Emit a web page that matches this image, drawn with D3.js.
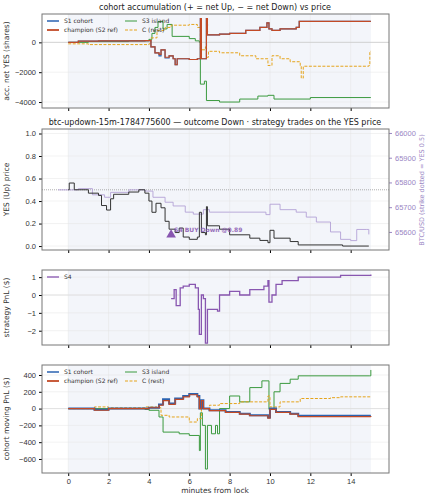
<!DOCTYPE html>
<html><head><meta charset="utf-8">
<script src="https://cdn.jsdelivr.net/npm/d3@7"></script>
<style>body{margin:0;background:#fff;font-family:"DejaVu Sans",sans-serif}</style>
</head><body><svg id="c" width="429" height="500"></svg>
<script>
// series as [minute, value] pairs
const accChampion = [[0,0],[0.5,80],[1.5,100],[3.8,120],[4.1,-300],[4.3,-700],[4.5,-800],[4.6,-500],[4.8,-1000],[5,-900],[5.2,-1100],[5.3,-1500],[5.4,-1100],[6,-1150],[6.4,-1100],[6.55,1600],[6.6,-1100],[6.8,-1100],[6.85,1600],[6.9,500],[7.5,550],[8,600],[8.8,800],[9.5,1000],[9.85,1300],[9.95,900],[10.1,800],[10.5,900],[11.3,1000],[11.45,1400],[15,1400]];
const accS1 = [[0,0],[0.5,80],[1.5,100],[3.8,120],[4.1,-300],[4.3,-700],[4.5,-900],[4.6,-500],[4.8,-1050],[5,-900],[5.2,-1100],[5.3,-1500],[5.4,-1100],[6,-1150],[6.4,-1100],[6.55,1600],[6.6,-1100],[6.8,-1100],[6.85,1600],[6.9,500],[7.5,550],[8,600],[8.8,800],[9.5,1000],[9.85,1300],[9.95,900],[10.1,800],[10.5,900],[11.3,1000],[11.45,1400],[15,1400]];
const accS3 = [[0,0],[1,50],[3,100],[4,200],[4.15,600],[4.3,1000],[4.45,1400],[4.7,900],[4.9,1200],[5.15,400],[6,250],[6.3,100],[6.5,0],[6.55,-2800],[6.75,-2600],[6.85,-3900],[7.5,-4000],[8.5,-3800],[9.4,-3600],[9.9,-3550],[10.2,-3800],[12,-3700],[15,-3700]];
const accC = [[0,-100],[1,-150],[3,-150],[4,-100],[4.1,300],[4.4,800],[4.8,1000],[5.1,1150],[6,1200],[6.4,1000],[6.55,-500],[6.8,-300],[6.85,-1000],[6.95,-600],[7.5,-700],[8.5,-900],[9.3,-1100],[9.9,-1550],[10.1,-900],[10.5,-1100],[11,-1300],[11.5,-1600],[11.55,-2400],[11.65,-1600],[14.9,-1550],[14.95,-600],[15,-600]];

const yesPrice = [[0,0.5],[0.05,0.56],[0.3,0.5],[1,0.47],[1.5,0.45],[1.65,0.36],[1.9,0.32],[2.1,0.42],[2.25,0.46],[3,0.48],[3.5,0.5],[3.8,0.47],[4,0.4],[4.15,0.3],[4.35,0.38],[4.6,0.34],[4.8,0.22],[5,0.15],[5.3,0.12],[5.5,0.16],[5.7,0.08],[6,0.06],[6.4,0.08],[6.5,0.3],[6.6,0.12],[6.8,0.1],[6.85,0.35],[6.9,0.18],[7.5,0.15],[8,0.1],[9,0.07],[9.5,0.05],[9.9,0.03],[10,0.14],[10.2,0.07],[11,0.04],[11.4,0.01],[13.6,0.0],[14.9,0.0]];
const btcPrice = [[-0.5,65770],[0.5,65775],[1.2,65750],[1.8,65740],[2.1,65760],[3,65770],[3.8,65765],[4.2,65740],[4.8,65720],[5.2,65705],[5.8,65680],[6.2,65672],[6.7,65690],[7,65680],[8,65680],[9.8,65670],[10,65712],[10.5,65690],[11.3,65680],[11.8,65660],[12.3,65640],[13,65600],[13.5,65570],[14,65565],[14.3,65610],[14.8,65610],[14.9,65590]];
const strike = 0.5;
const trades = [{t:5.1, p:0.1, label:"S4 BUY Down @0.89"}];

const pnlS4 = [[5.1,-0.2],[5.25,0.3],[5.35,-0.6],[5.55,0.4],[5.7,0.5],[6,0.6],[6.3,0.4],[6.45,-0.8],[6.5,-2.2],[6.6,0],[6.7,-0.2],[6.8,-2.7],[6.9,-0.8],[7.4,-0.9],[7.5,0],[8,0.2],[8.5,0],[9,0.3],[9.7,0.5],[9.9,0.8],[9.95,-0.4],[10.1,0],[10.3,0.6],[10.6,0.8],[11.4,1.0],[13.5,1.1],[15,1.15]];

const pnlS1 = [[0,0],[1.3,-15],[2,0],[4,10],[4.5,50],[4.7,110],[5,60],[5.3,120],[5.7,150],[6,175],[6.4,150],[6.5,0],[6.6,100],[6.7,0],[7,-20],[7.8,-40],[8.5,-60],[9,-80],[9.9,-105],[10,0],[10.3,-40],[11,-60],[11.4,-85],[15,-85]];
const pnlChampion = [[0,0],[1.3,-20],[2,0],[4,10],[4.5,40],[4.7,95],[5,50],[5.3,110],[5.7,140],[6,165],[6.4,140],[6.5,0],[6.6,95],[6.7,0],[7,-25],[7.8,-45],[8.5,-65],[9,-85],[9.9,-115],[10,-10],[10.3,-45],[11,-65],[11.4,-95],[15,-100]];
const pnlS3 = [[0,0],[3.8,-10],[4,-20],[4.5,-100],[4.7,-280],[5.5,-300],[6,-320],[6.5,-500],[6.55,-50],[6.65,-200],[6.8,-720],[6.9,-200],[7.1,-300],[7.3,-200],[7.4,-300],[7.5,0],[8,150],[8.5,80],[9,250],[9.6,330],[9.95,-10],[10.2,200],[10.5,300],[11,350],[11.4,390],[14.95,390],[15,460]];
const pnlC = [[0,0],[1.3,20],[2,10],[3.8,20],[4.4,10],[4.6,-80],[5,-100],[6,-160],[6.4,-120],[6.6,0],[7,40],[7.5,60],[8.5,80],[9.9,150],[10,20],[10.5,80],[11.5,120],[13,130],[13.5,140],[15,140]];

const xTicks = [0,2,4,6,8,10,12,14];
const col = {s1:"#2a62b0", champ:"#c24a26", s3:"#3b9a3f", c:"#e5a41c", s4:"#8856b0", btc:"#b3a2d6"};

const svg = d3.select("#c");
const L = 42, R = 389;
const x = d3.scaleLinear().domain([-1.3, 15.9]).range([L, R]);
const line = (xs, ys) => d3.line().x(d => xs(d[0])).y(d => ys(d[1])).curve(d3.curveStepAfter);

function panel(top, bottom, domain, ticks, fmt, ylab, bottomLabels) {
  const y = d3.scaleLinear().domain(domain).range([bottom, top]);
  const g = svg.append("g");
  g.append("rect").attr("x", L).attr("y", top).attr("width", R - L).attr("height", bottom - top).attr("fill", "#fff");
  g.append("rect").attr("x", x(0)).attr("y", top).attr("width", x(15) - x(0)).attr("height", bottom - top).attr("fill", "#f3f5fa");
  ticks.forEach(t => g.append("line").attr("x1", L).attr("x2", R).attr("y1", y(t)).attr("y2", y(t)).attr("stroke", "#e4e4e4").attr("stroke-width", 0.5));
  xTicks.forEach(t => g.append("line").attr("x1", x(t)).attr("x2", x(t)).attr("y1", top).attr("y2", bottom).attr("stroke", "#e4e4e4").attr("stroke-width", 0.5));
  const ya = g.append("g").attr("transform", `translate(${L},0)`).call(d3.axisLeft(y).tickValues(ticks).tickFormat(fmt).tickSize(3));
  ya.selectAll("text").attr("font-size", 7.5).attr("fill", "#333");
  ya.select(".domain").remove();
  const xa = g.append("g").attr("transform", `translate(0,${bottom})`).call(d3.axisBottom(x).tickValues(xTicks).tickSize(3).tickFormat(bottomLabels ? d3.format("d") : ""));
  xa.selectAll("text").attr("font-size", 7.5).attr("fill", "#333");
  xa.select(".domain").remove();
  g.append("text").attr("transform", `translate(9,${(top + bottom) / 2}) rotate(-90)`).attr("text-anchor", "middle").attr("font-size", 7.5).attr("fill", "#333").text(ylab);
  return {y, g, top, bottom};
}
function frame(p) {
  svg.append("rect").attr("x", L).attr("y", p.top).attr("width", R - L).attr("height", p.bottom - p.top).attr("fill", "none").attr("stroke", "#777").attr("stroke-width", 1);
}
function path(p, data, color, w, dash) {
  p.g.append("path").datum(data).attr("d", line(x, p.y)).attr("fill", "none").attr("stroke", color).attr("stroke-width", w).attr("stroke-dasharray", dash || null);
}
const fmtMinus = d => d3.format("d")(d).replace("-", "\u2212");
function legend(p, items) {
  items.forEach((it, i) => {
    const lx = L + 5 + (i % 2) * 78, ly = p.top + 7 + Math.floor(i / 2) * 9;
    p.g.append("line").attr("x1", lx).attr("x2", lx + 12).attr("y1", ly).attr("y2", ly).attr("stroke", it[1]).attr("stroke-width", it[2] || 1.3).attr("stroke-dasharray", it[3] || null);
    p.g.append("text").attr("x", lx + 17).attr("y", ly + 2.3).attr("font-size", 6).attr("fill", "#333").text(it[0]);
  });
}
const legItems = [["S1 cohort", col.s1, 1.5], ["S3 island", col.s3, 1], ["champion (S2 ref)", col.champ, 1.8], ["C (rest)", col.c, 1, "3,1.5"]];

// panel 1
svg.append("text").attr("x", 215).attr("y", 10).attr("text-anchor", "middle").attr("font-size", 8).attr("fill", "#222").text("cohort accumulation (+ = net Up, \u2212 = net Down) vs price");
const p1 = panel(14, 108, [-4400, 1900], [-4000, -2000, 0], fmtMinus, "acc. net YES (shares)", false);
p1.g.append("line").attr("x1", L).attr("x2", R).attr("y1", p1.y(0)).attr("y2", p1.y(0)).attr("stroke", "#ccc").attr("stroke-width", 0.8);
path(p1, accS3, col.s3, 1);
path(p1, accC, col.c, 1, "3,1.5");
path(p1, accS1, col.s1, 1.2);
path(p1, accChampion, col.champ, 1.2);
legend(p1, legItems);
frame(p1);

// panel 2
svg.append("text").attr("x", 215).attr("y", 125).attr("text-anchor", "middle").attr("font-size", 8).attr("fill", "#222").text("btc-updown-15m-1784775600 \u2014 outcome Down \u00b7 strategy trades on the YES price");
const p2 = panel(129, 250, [-0.035, 1.04], [0, 0.2, 0.4, 0.6, 0.8, 1.0], d3.format(".1f"), "YES (Up) price", false);
const yb = d3.scaleLinear().domain([65527, 66016]).range([250, 129]);
const ra = svg.append("g").attr("transform", `translate(${R},0)`).call(d3.axisRight(yb).tickValues([65600, 65700, 65800, 65900, 66000]).tickFormat(d3.format("d")).tickSize(3));
ra.selectAll("text").attr("font-size", 7.5).attr("fill", "#9a86c4");
ra.selectAll("line").attr("stroke", "#9a86c4");
ra.select(".domain").remove();
svg.append("text").attr("transform", `translate(424,190) rotate(-90)`).attr("text-anchor", "middle").attr("font-size", 6.5).attr("fill", "#9a86c4").text("BTC/USD (strike dotted = YES 0.5)");
p2.g.append("line").attr("x1", L).attr("x2", R).attr("y1", p2.y(strike)).attr("y2", p2.y(strike)).attr("stroke", "#999").attr("stroke-width", 0.8).attr("stroke-dasharray", "1,1");
p2.g.append("path").datum(btcPrice).attr("d", line(x, yb)).attr("fill", "none").attr("stroke", col.btc).attr("stroke-width", 0.9);
path(p2, yesPrice, "#333", 1);
trades.forEach(t => {
  p2.g.append("path").attr("d", d3.symbol(d3.symbolTriangle, 40)()).attr("transform", `translate(${x(t.t)},${p2.y(t.p)})`).attr("fill", col.s4);
  p2.g.append("text").attr("x", x(t.t) + 3).attr("y", p2.y(t.p) - 3).attr("font-size", 6).attr("font-weight", "bold").attr("fill", col.s4).attr("opacity", 0.85).text(t.label);
});
frame(p2);

// panel 3
const p3 = panel(270, 345, [-2.8, 1.4], [-2, -1, 0, 1], fmtMinus, "strategy PnL ($)", false);
p3.g.append("line").attr("x1", L).attr("x2", R).attr("y1", p3.y(0)).attr("y2", p3.y(0)).attr("stroke", "#ddd").attr("stroke-width", 0.8);
path(p3, pnlS4, col.s4, 1.3);
p3.g.append("line").attr("x1", L + 5).attr("x2", L + 17).attr("y1", 277).attr("y2", 277).attr("stroke", col.s4).attr("stroke-width", 1.3);
p3.g.append("text").attr("x", L + 22).attr("y", 279.3).attr("font-size", 6).attr("fill", "#333").text("S4");
frame(p3);

// panel 4
const p4 = panel(365, 473, [-767, 519], [-600, -400, -200, 0, 200, 400], fmtMinus, "cohort moving PnL ($)", true);
p4.g.append("line").attr("x1", L).attr("x2", R).attr("y1", p4.y(0)).attr("y2", p4.y(0)).attr("stroke", "#ddd").attr("stroke-width", 0.8);
path(p4, pnlS3, col.s3, 1);
path(p4, pnlC, col.c, 1, "3,1.5");
path(p4, pnlS1, col.s1, 2);
path(p4, pnlChampion, col.champ, 1.2);
legend(p4, legItems);
frame(p4);
svg.append("text").attr("x", 215).attr("y", 493).attr("text-anchor", "middle").attr("font-size", 7.5).attr("fill", "#333").text("minutes from lock");
</script></body></html>
